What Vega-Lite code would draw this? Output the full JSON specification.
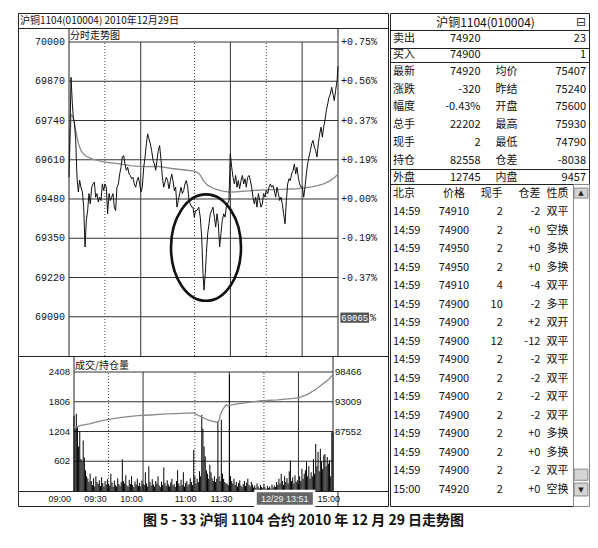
{
"$schema":"https://vega.github.io/schema/vega-lite/v6.json",
"background":"white",
"padding":{"left":17,"top":12,"right":12,"bottom":8},
"title":{"text":"图 5 - 33    沪铜 1104 合约 2010 年 12 月 29 日走势图","orient":"bottom","anchor":"middle","font":"Noto Sans CJK SC","fontSize":14,"fontWeight":"bold","color":"#111","offset":6},
"config":{"view":{"stroke":"#222","strokeWidth":1},"concat":{"spacing":0}},
"datasets":{
"priceTicks":[{"p":70000,"pct":"+0.75%"},{"p":69870,"pct":"+0.56%"},{"p":69740,"pct":"+0.37%"},{"p":69610,"pct":"+0.19%"},{"p":69480,"pct":"+0.00%"},{"p":69350,"pct":"-0.19%"},{"p":69220,"pct":"-0.37%"},{"p":69090,"pct":""}],
"volTicks":[{"v":2408,"oil":"98466"},{"v":1806,"oil":"93009"},{"v":1204,"oil":"87552"},{"v":602,"oil":""}],
"vgrid":[{"t":30,"kind":"minor"},{"t":60,"kind":"major"},{"t":105,"kind":"minor"},{"t":135,"kind":"major"},{"t":165,"kind":"minor"},{"t":195,"kind":"major"}],
"price":[{"t":0,"p":69552},{"t":0.6,"p":69674},{"t":1.0,"p":69740},{"t":1.7,"p":69883},{"t":2.8,"p":69795},{"t":3.6,"p":69751},{"t":4.5,"p":69734},{"t":5.6,"p":69674},{"t":6.7,"p":69552},{"t":7.8,"p":69503},{"t":8.9,"p":69542},{"t":10.0,"p":69519},{"t":11.2,"p":69503},{"t":12.3,"p":69453},{"t":13.4,"p":69321},{"t":14.5,"p":69409},{"t":15.6,"p":69442},{"t":16.7,"p":69498},{"t":17.8,"p":69464},{"t":19.0,"p":69519},{"t":20.1,"p":69530},{"t":21.2,"p":69536},{"t":22.3,"p":69486},{"t":23.4,"p":69498},{"t":24.5,"p":69470},{"t":25.6,"p":69486},{"t":26.8,"p":69475},{"t":27.9,"p":69530},{"t":29.0,"p":69508},{"t":30.1,"p":69530},{"t":31.2,"p":69519},{"t":32.3,"p":69431},{"t":33.5,"p":69498},{"t":34.6,"p":69475},{"t":35.7,"p":69486},{"t":36.8,"p":69498},{"t":37.9,"p":69453},{"t":39.0,"p":69442},{"t":40.1,"p":69519},{"t":41.3,"p":69530},{"t":42.4,"p":69563},{"t":43.5,"p":69585},{"t":44.6,"p":69619},{"t":45.7,"p":69624},{"t":46.8,"p":69597},{"t":47.9,"p":69575},{"t":49.1,"p":69585},{"t":50.2,"p":69563},{"t":51.3,"p":69558},{"t":52.4,"p":69547},{"t":53.5,"p":69552},{"t":54.6,"p":69530},{"t":55.8,"p":69519},{"t":56.9,"p":69541},{"t":58.0,"p":69552},{"t":59.1,"p":69530},{"t":60.2,"p":69503},{"t":61.3,"p":69519},{"t":62.5,"p":69585},{"t":63.6,"p":69619},{"t":64.7,"p":69663},{"t":65.8,"p":69696},{"t":66.9,"p":69679},{"t":68.0,"p":69663},{"t":69.1,"p":69641},{"t":70.3,"p":69608},{"t":71.4,"p":69597},{"t":72.5,"p":69575},{"t":73.6,"p":69608},{"t":74.7,"p":69641},{"t":75.8,"p":69657},{"t":77.0,"p":69608},{"t":78.1,"p":69552},{"t":79.2,"p":69519},{"t":80.3,"p":69536},{"t":81.4,"p":69552},{"t":82.5,"p":69541},{"t":83.6,"p":69514},{"t":84.8,"p":69541},{"t":85.9,"p":69563},{"t":87.0,"p":69541},{"t":88.1,"p":69508},{"t":89.2,"p":69519},{"t":90.3,"p":69453},{"t":91.4,"p":69475},{"t":92.6,"p":69498},{"t":93.7,"p":69519},{"t":94.8,"p":69498},{"t":95.9,"p":69508},{"t":97.0,"p":69530},{"t":98.1,"p":69541},{"t":99.3,"p":69519},{"t":100.4,"p":69475},{"t":101.5,"p":69464},{"t":102.6,"p":69453},{"t":103.7,"p":69453},{"t":104.8,"p":69420},{"t":105.9,"p":69442},{"t":107.1,"p":69442},{"t":108.5,"p":69453},{"t":109.8,"p":69420},{"t":111.0,"p":69354},{"t":112.1,"p":69233},{"t":112.9,"p":69178},{"t":114.0,"p":69233},{"t":114.9,"p":69299},{"t":116.0,"p":69365},{"t":117.1,"p":69398},{"t":118.2,"p":69431},{"t":119.3,"p":69442},{"t":120.4,"p":69453},{"t":121.6,"p":69420},{"t":122.7,"p":69387},{"t":123.8,"p":69431},{"t":124.9,"p":69398},{"t":126.0,"p":69321},{"t":127.1,"p":69365},{"t":128.2,"p":69409},{"t":129.4,"p":69431},{"t":130.5,"p":69420},{"t":131.6,"p":69453},{"t":132.7,"p":69464},{"t":133.8,"p":69475},{"t":134.9,"p":69630},{"t":136.1,"p":69585},{"t":137.2,"p":69552},{"t":138.3,"p":69530},{"t":139.4,"p":69558},{"t":140.5,"p":69519},{"t":141.6,"p":69541},{"t":142.7,"p":69514},{"t":143.9,"p":69541},{"t":145.0,"p":69558},{"t":146.1,"p":69530},{"t":147.2,"p":69547},{"t":148.3,"p":69519},{"t":149.4,"p":69552},{"t":150.6,"p":69558},{"t":151.7,"p":69541},{"t":152.8,"p":69519},{"t":153.9,"p":69486},{"t":155.0,"p":69464},{"t":156.1,"p":69486},{"t":157.2,"p":69453},{"t":158.4,"p":69498},{"t":159.5,"p":69475},{"t":160.6,"p":69453},{"t":161.7,"p":69464},{"t":162.8,"p":69498},{"t":163.9,"p":69486},{"t":165.0,"p":69508},{"t":166.2,"p":69498},{"t":167.3,"p":69519},{"t":168.4,"p":69530},{"t":169.5,"p":69519},{"t":170.6,"p":69525},{"t":171.7,"p":69508},{"t":172.9,"p":69486},{"t":174.0,"p":69519},{"t":175.1,"p":69498},{"t":176.2,"p":69475},{"t":177.3,"p":69486},{"t":178.4,"p":69464},{"t":179.5,"p":69431},{"t":180.7,"p":69398},{"t":181.8,"p":69475},{"t":182.9,"p":69530},{"t":184.0,"p":69547},{"t":185.1,"p":69541},{"t":186.2,"p":69563},{"t":187.4,"p":69574},{"t":188.5,"p":69596},{"t":189.6,"p":69563},{"t":190.7,"p":69585},{"t":191.8,"p":69552},{"t":192.9,"p":69530},{"t":194.0,"p":69519},{"t":195.2,"p":69519},{"t":196.3,"p":69486},{"t":197.4,"p":69519},{"t":198.5,"p":69563},{"t":199.6,"p":69596},{"t":200.7,"p":69619},{"t":201.9,"p":69641},{"t":203.0,"p":69663},{"t":204.1,"p":69674},{"t":205.2,"p":69652},{"t":206.3,"p":69641},{"t":207.4,"p":69619},{"t":208.5,"p":69663},{"t":209.7,"p":69696},{"t":210.8,"p":69718},{"t":211.9,"p":69685},{"t":213.0,"p":69718},{"t":214.1,"p":69740},{"t":215.2,"p":69773},{"t":216.4,"p":69795},{"t":217.5,"p":69817},{"t":218.6,"p":69828},{"t":219.7,"p":69850},{"t":220.8,"p":69828},{"t":221.9,"p":69806},{"t":223.0,"p":69839},{"t":224.2,"p":69872},{"t":225,"p":69920}],
"avg":[{"t":0,"a":69552},{"t":0.6,"a":69640},{"t":1.7,"a":69760},{"t":3,"a":69755},{"t":4.5,"a":69730},{"t":6,"a":69700},{"t":7.8,"a":69665},{"t":10,"a":69640},{"t":13.4,"a":69624},{"t":19,"a":69613},{"t":30,"a":69602},{"t":41,"a":69597},{"t":52.4,"a":69590},{"t":63.6,"a":69587},{"t":74.7,"a":69588},{"t":85.9,"a":69581},{"t":97,"a":69576},{"t":104.8,"a":69572},{"t":108.2,"a":69566},{"t":110,"a":69558},{"t":112.6,"a":69540},{"t":116,"a":69525},{"t":121.5,"a":69514},{"t":126.6,"a":69508},{"t":133.8,"a":69503},{"t":140,"a":69504},{"t":150,"a":69507},{"t":163,"a":69510},{"t":177,"a":69512},{"t":190.7,"a":69514},{"t":201.9,"a":69519},{"t":208,"a":69524},{"t":213,"a":69530},{"t":218.6,"a":69541},{"t":222,"a":69551},{"t":225,"a":69562}],
"oi":[{"t":0,"oi":88220},{"t":2.2,"oi":88340},{"t":5,"oi":88640},{"t":13.3,"oi":88950},{"t":24.5,"oi":89550},{"t":32.8,"oi":89860},{"t":41.3,"oi":90160},{"t":55.2,"oi":90460},{"t":66.3,"oi":90580},{"t":80.3,"oi":90770},{"t":94.2,"oi":90890},{"t":104,"oi":90950},{"t":108,"oi":90500},{"t":112.6,"oi":90030},{"t":118.2,"oi":89550},{"t":123.8,"oi":89240},{"t":126,"oi":89550},{"t":127.1,"oi":90590},{"t":129.4,"oi":91680},{"t":132.1,"oi":92410},{"t":134,"oi":92290},{"t":140.5,"oi":92590},{"t":151.7,"oi":92890},{"t":162.8,"oi":93190},{"t":176.8,"oi":93370},{"t":190.7,"oi":93615},{"t":196.3,"oi":93800},{"t":203.2,"oi":94400},{"t":210.2,"oi":95310},{"t":215.8,"oi":96220},{"t":221.4,"oi":97130},{"t":224.2,"oi":97860},{"t":225,"oi":98100}],
"vol":[{"t":0,"v":1525},{"t":1,"v":1270},{"t":2,"v":1565},{"t":3,"v":1290},{"t":4,"v":900},{"t":5,"v":1204},{"t":6,"v":650},{"t":7,"v":600},{"t":8,"v":1023},{"t":9,"v":680},{"t":10,"v":420},{"t":11,"v":300},{"t":12,"v":250},{"t":13,"v":180},{"t":14,"v":350},{"t":15,"v":200},{"t":16,"v":120},{"t":17,"v":260},{"t":18,"v":90},{"t":19,"v":300},{"t":20,"v":180},{"t":21,"v":140},{"t":22,"v":220},{"t":23,"v":100},{"t":24,"v":280},{"t":25,"v":160},{"t":26,"v":90},{"t":27,"v":200},{"t":28,"v":130},{"t":29,"v":240},{"t":30,"v":150},{"t":31,"v":110},{"t":32,"v":350},{"t":33,"v":170},{"t":34,"v":80},{"t":35,"v":210},{"t":36,"v":120},{"t":37,"v":90},{"t":38,"v":260},{"t":39,"v":140},{"t":40,"v":100},{"t":41,"v":180},{"t":42,"v":640},{"t":43,"v":200},{"t":44,"v":150},{"t":45,"v":320},{"t":46,"v":110},{"t":47,"v":90},{"t":48,"v":230},{"t":49,"v":140},{"t":50,"v":300},{"t":51,"v":120},{"t":52,"v":80},{"t":53,"v":190},{"t":54,"v":130},{"t":55,"v":250},{"t":56,"v":100},{"t":57,"v":160},{"t":58,"v":90},{"t":59,"v":210},{"t":60,"v":140},{"t":61,"v":120},{"t":62,"v":380},{"t":63,"v":150},{"t":64,"v":90},{"t":65,"v":500},{"t":66,"v":180},{"t":67,"v":110},{"t":68,"v":240},{"t":69,"v":130},{"t":70,"v":90},{"t":71,"v":200},{"t":72,"v":150},{"t":73,"v":300},{"t":74,"v":110},{"t":75,"v":80},{"t":76,"v":190},{"t":77,"v":120},{"t":78,"v":475},{"t":79,"v":160},{"t":80,"v":100},{"t":81,"v":220},{"t":82,"v":130},{"t":83,"v":90},{"t":84,"v":170},{"t":85,"v":250},{"t":86,"v":110},{"t":87,"v":140},{"t":88,"v":80},{"t":89,"v":200},{"t":90,"v":420},{"t":91,"v":150},{"t":92,"v":100},{"t":93,"v":230},{"t":94,"v":120},{"t":95,"v":380},{"t":96,"v":90},{"t":97,"v":160},{"t":98,"v":200},{"t":99,"v":110},{"t":100,"v":140},{"t":101,"v":260},{"t":102,"v":180},{"t":103,"v":120},{"t":104,"v":836},{"t":105,"v":300},{"t":106,"v":150},{"t":107,"v":250},{"t":108,"v":180},{"t":109,"v":400},{"t":110,"v":300},{"t":111,"v":1540},{"t":112,"v":1260},{"t":113,"v":900},{"t":114,"v":700},{"t":115,"v":420},{"t":116,"v":350},{"t":117,"v":250},{"t":118,"v":530},{"t":119,"v":380},{"t":120,"v":260},{"t":121,"v":200},{"t":122,"v":300},{"t":123,"v":180},{"t":124,"v":250},{"t":125,"v":1405},{"t":126,"v":300},{"t":127,"v":200},{"t":128,"v":1440},{"t":129,"v":350},{"t":130,"v":250},{"t":131,"v":180},{"t":132,"v":150},{"t":133,"v":150},{"t":134,"v":120},{"t":135,"v":2350},{"t":136,"v":300},{"t":137,"v":200},{"t":138,"v":150},{"t":139,"v":250},{"t":140,"v":120},{"t":141,"v":180},{"t":142,"v":90},{"t":143,"v":160},{"t":144,"v":220},{"t":145,"v":110},{"t":146,"v":80},{"t":147,"v":140},{"t":148,"v":200},{"t":149,"v":100},{"t":150,"v":170},{"t":151,"v":250},{"t":152,"v":120},{"t":153,"v":90},{"t":154,"v":180},{"t":155,"v":130},{"t":156,"v":70},{"t":157,"v":110},{"t":158,"v":60},{"t":159,"v":150},{"t":160,"v":90},{"t":161,"v":50},{"t":162,"v":120},{"t":163,"v":80},{"t":164,"v":60},{"t":165,"v":140},{"t":166,"v":70},{"t":167,"v":40},{"t":168,"v":100},{"t":169,"v":60},{"t":170,"v":90},{"t":171,"v":50},{"t":172,"v":130},{"t":173,"v":70},{"t":174,"v":110},{"t":175,"v":80},{"t":176,"v":180},{"t":177,"v":120},{"t":178,"v":250},{"t":179,"v":150},{"t":180,"v":350},{"t":181,"v":200},{"t":182,"v":120},{"t":183,"v":300},{"t":184,"v":180},{"t":185,"v":260},{"t":186,"v":150},{"t":187,"v":400},{"t":188,"v":620},{"t":189,"v":200},{"t":190,"v":280},{"t":191,"v":150},{"t":192,"v":320},{"t":193,"v":180},{"t":194,"v":220},{"t":195,"v":140},{"t":196,"v":300},{"t":197,"v":200},{"t":198,"v":450},{"t":199,"v":250},{"t":200,"v":350},{"t":201,"v":420},{"t":202,"v":590},{"t":203,"v":300},{"t":204,"v":500},{"t":205,"v":250},{"t":206,"v":380},{"t":207,"v":300},{"t":208,"v":650},{"t":209,"v":350},{"t":210,"v":950},{"t":211,"v":500},{"t":212,"v":790},{"t":213,"v":400},{"t":214,"v":856},{"t":215,"v":600},{"t":216,"v":450},{"t":217,"v":722},{"t":218,"v":750},{"t":219,"v":500},{"t":220,"v":690},{"t":221,"v":555},{"t":222,"v":620},{"t":223,"v":300},{"t":224,"v":1190},{"t":225,"v":1200}],
"quote":[{"sec":"T2","r":0,"c0":"卖出","c1":"74920","c2":"","c3":"23"},{"sec":"T3","r":0,"c0":"买入","c1":"74900","c2":"","c3":"1"},{"sec":"T4","r":0,"c0":"最新","c1":"74920","c2":"均价","c3":"75407"},{"sec":"T4","r":1,"c0":"涨跌","c1":"-320","c2":"昨结","c3":"75240"},{"sec":"T4","r":2,"c0":"幅度","c1":"-0.43%","c2":"开盘","c3":"75600"},{"sec":"T4","r":3,"c0":"总手","c1":"22202","c2":"最高","c3":"75930"},{"sec":"T4","r":4,"c0":"现手","c1":"2","c2":"最低","c3":"74790"},{"sec":"T4","r":5,"c0":"持仓","c1":"82558","c2":"仓差","c3":"-8038"},{"sec":"T5","r":0,"c0":"外盘","c1":"12745","c2":"内盘","c3":"9457"}],
"trades":[{"r":0,"c0":"北京","c1":"价格","c2":"现手","c3":"仓差","c4":"性质"},{"r":1,"c0":"14:59","c1":"74910","c2":"2","c3":"-2","c4":"双平"},{"r":2,"c0":"14:59","c1":"74900","c2":"2","c3":"+0","c4":"空换"},{"r":3,"c0":"14:59","c1":"74950","c2":"2","c3":"+0","c4":"多换"},{"r":4,"c0":"14:59","c1":"74950","c2":"2","c3":"+0","c4":"多换"},{"r":5,"c0":"14:59","c1":"74910","c2":"4","c3":"-4","c4":"双平"},{"r":6,"c0":"14:59","c1":"74900","c2":"10","c3":"-2","c4":"多平"},{"r":7,"c0":"14:59","c1":"74900","c2":"2","c3":"+2","c4":"双开"},{"r":8,"c0":"14:59","c1":"74900","c2":"12","c3":"-12","c4":"双平"},{"r":9,"c0":"14:59","c1":"74900","c2":"2","c3":"-2","c4":"双平"},{"r":10,"c0":"14:59","c1":"74900","c2":"2","c3":"-2","c4":"双平"},{"r":11,"c0":"14:59","c1":"74900","c2":"2","c3":"-2","c4":"双平"},{"r":12,"c0":"14:59","c1":"74900","c2":"2","c3":"-2","c4":"双平"},{"r":13,"c0":"14:59","c1":"74900","c2":"2","c3":"+0","c4":"多换"},{"r":14,"c0":"14:59","c1":"74900","c2":"2","c3":"+0","c4":"多换"},{"r":15,"c0":"14:59","c1":"74900","c2":"2","c3":"-2","c4":"双平"},{"r":16,"c0":"15:00","c1":"74920","c2":"2","c3":"+0","c4":"空换"}]
},
"spacing":0,
"bounds":"full",
"hconcat":[
{"spacing":0,"bounds":"flush","vconcat":[
 {"width":370,"height":15,"data":{"values":[{"k":"a","txt":"沪铜1104(010004) 2010年12月29日"}]},
  "mark":{"type":"text","align":"left","baseline":"middle","dx":2,"font":"Noto Sans CJK SC","fontSize":10,"color":"#111"},
  "encoding":{"x":{"field":"k","type":"nominal","bandPosition":0,"scale":{"type":"band","paddingInner":0,"paddingOuter":0},"axis":null},"text":{"field":"txt"}}},
 {"width":370,"height":328,"layer":[
  {"data":{"name":"priceTicks"},"mark":{"type":"rule","color":"#333","strokeWidth":1},"encoding":{"x":{"datum":0,"type":"quantitative","scale":{"domain":[0,225],"range":[51,320],"zero":false,"nice":false},"axis":null},"x2":{"datum":225},"y":{"field":"p","type":"quantitative","scale":{"domain":[68960,70000],"range":[328,14],"zero":false,"nice":false},"axis":null}}},
  {"data":{"name":"vgrid"},"transform":[{"filter":"datum.kind==='major'"}],"mark":{"type":"rule","color":"#333","strokeWidth":1},"encoding":{"x":{"field":"t","type":"quantitative","scale":{"domain":[0,225],"range":[51,320],"zero":false,"nice":false},"axis":null},"y":{"datum":68960,"type":"quantitative","scale":{"domain":[68960,70000],"range":[328,14],"zero":false,"nice":false},"axis":null},"y2":{"datum":70000}}},
  {"data":{"name":"vgrid"},"transform":[{"filter":"datum.kind==='minor'"}],"mark":{"type":"rule","color":"#444","strokeWidth":1,"strokeDash":[1,2]},"encoding":{"x":{"field":"t","type":"quantitative","scale":{"domain":[0,225],"range":[51,320],"zero":false,"nice":false},"axis":null},"y":{"datum":68960,"type":"quantitative","scale":{"domain":[68960,70000],"range":[328,14],"zero":false,"nice":false},"axis":null},"y2":{"datum":70000}}},
  {"data":{"values":[{"t":0},{"t":225}]},"mark":{"type":"rule","color":"#222","strokeWidth":1},"encoding":{"x":{"field":"t","type":"quantitative","scale":{"domain":[0,225],"range":[51,320],"zero":false,"nice":false},"axis":null}}},
  {"data":{"name":"avg"},"mark":{"type":"line","color":"#8a8a8a","strokeWidth":1.3},"encoding":{"x":{"field":"t","type":"quantitative","scale":{"domain":[0,225],"range":[51,320],"zero":false,"nice":false},"axis":null},"y":{"field":"a","type":"quantitative","scale":{"domain":[68960,70000],"range":[328,14],"zero":false,"nice":false},"axis":null}}},
  {"data":{"name":"price"},"mark":{"type":"line","color":"#111","strokeWidth":1},"encoding":{"x":{"field":"t","type":"quantitative","scale":{"domain":[0,225],"range":[51,320],"zero":false,"nice":false},"axis":null},"y":{"field":"p","type":"quantitative","scale":{"domain":[68960,70000],"range":[328,14],"zero":false,"nice":false},"axis":null}}},
  {"data":{"values":[{"t":114.6,"p":69319}]},"mark":{"type":"point","shape":"M-1,0A1,1.52,0,1,1,1,0A1,1.52,0,1,1,-1,0Z","size":4900,"filled":false,"stroke":"#111","strokeWidth":2.6,"opacity":1},"encoding":{"x":{"field":"t","type":"quantitative","scale":{"domain":[0,225],"range":[51,320],"zero":false,"nice":false},"axis":null},"y":{"field":"p","type":"quantitative","scale":{"domain":[68960,70000],"range":[328,14],"zero":false,"nice":false},"axis":null}}},
  {"data":{"values":[{"h":"分时走势图"}]},"mark":{"type":"text","align":"left","baseline":"bottom","dx":1,"dy":-1,"font":"Noto Sans CJK SC","fontSize":10,"color":"#111"},"encoding":{"x":{"datum":0,"type":"quantitative","scale":{"domain":[0,225],"range":[51,320],"zero":false,"nice":false},"axis":null},"y":{"datum":70000,"type":"quantitative","scale":{"domain":[68960,70000],"range":[328,14],"zero":false,"nice":false},"axis":null},"text":{"field":"h"}}},
  {"data":{"name":"priceTicks"},"mark":{"type":"text","align":"right","baseline":"middle","dx":-4,"font":"Liberation Mono","fontSize":10,"color":"#111"},"encoding":{"x":{"datum":0,"type":"quantitative","scale":{"domain":[0,225],"range":[51,320],"zero":false,"nice":false},"axis":null},"y":{"field":"p","type":"quantitative","scale":{"domain":[68960,70000],"range":[328,14],"zero":false,"nice":false},"axis":null},"text":{"field":"p","type":"quantitative","format":"d"}}},
  {"data":{"name":"priceTicks"},"mark":{"type":"text","align":"left","baseline":"middle","dx":3,"font":"Liberation Mono","fontSize":10,"color":"#111"},"encoding":{"x":{"datum":225,"type":"quantitative","scale":{"domain":[0,225],"range":[51,320],"zero":false,"nice":false},"axis":null},"y":{"field":"p","type":"quantitative","scale":{"domain":[68960,70000],"range":[328,14],"zero":false,"nice":false},"axis":null},"text":{"field":"pct"}}},
  {"data":{"values":[{"c":"69065"}]},"mark":{"type":"rect","color":"#555"},"encoding":{"x":{"datum":227,"type":"quantitative","scale":{"domain":[0,225],"range":[51,320],"zero":false,"nice":false},"axis":null},"x2":{"datum":251},"y":{"datum":69070,"type":"quantitative","scale":{"domain":[68960,70000],"range":[328,14],"zero":false,"nice":false},"axis":null},"y2":{"datum":69104}}},
  {"data":{"values":[{"c":"69065"}]},"mark":{"type":"text","align":"center","baseline":"middle","font":"Liberation Mono","fontSize":9,"color":"#fff"},"encoding":{"x":{"datum":239,"type":"quantitative","scale":{"domain":[0,225],"range":[51,320],"zero":false,"nice":false},"axis":null},"y":{"datum":69087,"type":"quantitative","scale":{"domain":[68960,70000],"range":[328,14],"zero":false,"nice":false},"axis":null},"text":{"field":"c"}}},
  {"data":{"values":[{"c":"%"}]},"mark":{"type":"text","align":"left","baseline":"middle","dx":1,"font":"Liberation Mono","fontSize":10,"color":"#111"},"encoding":{"x":{"datum":251,"type":"quantitative","scale":{"domain":[0,225],"range":[51,320],"zero":false,"nice":false},"axis":null},"y":{"datum":69087,"type":"quantitative","scale":{"domain":[68960,70000],"range":[328,14],"zero":false,"nice":false},"axis":null},"text":{"field":"c"}}}
 ]},
 {"width":370,"height":135,"resolve":{"scale":{"y":"independent"}},"layer":[
  {"layer":[
   {"data":{"name":"volTicks"},"mark":{"type":"rule","color":"#333","strokeWidth":1},"encoding":{"x":{"datum":0,"type":"quantitative","scale":{"domain":[0,225],"range":[51,320],"zero":false,"nice":false},"axis":null},"x2":{"datum":225},"y":{"field":"v","type":"quantitative","scale":{"domain":[0,2408],"range":[135,16],"zero":false,"nice":false},"axis":null}}},
   {"data":{"name":"vgrid"},"transform":[{"filter":"datum.kind==='major'"}],"mark":{"type":"rule","color":"#333","strokeWidth":1},"encoding":{"x":{"field":"t","type":"quantitative","scale":{"domain":[0,225],"range":[51,320],"zero":false,"nice":false},"axis":null},"y":{"datum":0,"type":"quantitative","scale":{"domain":[0,2408],"range":[135,16],"zero":false,"nice":false},"axis":null},"y2":{"datum":2408}}},
   {"data":{"name":"vgrid"},"transform":[{"filter":"datum.kind==='minor'"}],"mark":{"type":"rule","color":"#444","strokeWidth":1,"strokeDash":[1,2]},"encoding":{"x":{"field":"t","type":"quantitative","scale":{"domain":[0,225],"range":[51,320],"zero":false,"nice":false},"axis":null},"y":{"datum":0,"type":"quantitative","scale":{"domain":[0,2408],"range":[135,16],"zero":false,"nice":false},"axis":null},"y2":{"datum":2408}}},
   {"data":{"values":[{"t":0},{"t":225}]},"mark":{"type":"rule","color":"#222","strokeWidth":1},"encoding":{"x":{"field":"t","type":"quantitative","scale":{"domain":[0,225],"range":[51,320],"zero":false,"nice":false},"axis":null}}},
   {"data":{"name":"vol"},"mark":{"type":"bar","orient":"vertical","width":1,"color":"#000"},"encoding":{"x":{"field":"t","type":"quantitative","scale":{"domain":[0,225],"range":[51,320],"zero":false,"nice":false},"axis":null},"y":{"field":"v","type":"quantitative","scale":{"domain":[0,2408],"range":[135,16],"zero":false,"nice":false},"axis":null}}},
   {"data":{"values":[{"h":"成交/持仓量"}]},"mark":{"type":"text","align":"left","baseline":"bottom","dx":1,"dy":-1,"font":"Noto Sans CJK SC","fontSize":10,"color":"#111"},"encoding":{"x":{"datum":0,"type":"quantitative","scale":{"domain":[0,225],"range":[51,320],"zero":false,"nice":false},"axis":null},"y":{"datum":2408,"type":"quantitative","scale":{"domain":[0,2408],"range":[135,16],"zero":false,"nice":false},"axis":null},"text":{"field":"h"}}},
   {"data":{"name":"volTicks"},"mark":{"type":"text","align":"right","baseline":"middle","dx":-4,"font":"Liberation Sans","fontSize":9.5,"color":"#111"},"encoding":{"x":{"datum":0,"type":"quantitative","scale":{"domain":[0,225],"range":[51,320],"zero":false,"nice":false},"axis":null},"y":{"field":"v","type":"quantitative","scale":{"domain":[0,2408],"range":[135,16],"zero":false,"nice":false},"axis":null},"text":{"field":"v","type":"quantitative","format":"d"}}},
   {"data":{"name":"volTicks"},"mark":{"type":"text","align":"left","baseline":"middle","dx":2,"font":"Liberation Sans","fontSize":9.5,"color":"#111"},"encoding":{"x":{"datum":225,"type":"quantitative","scale":{"domain":[0,225],"range":[51,320],"zero":false,"nice":false},"axis":null},"y":{"field":"v","type":"quantitative","scale":{"domain":[0,2408],"range":[135,16],"zero":false,"nice":false},"axis":null},"text":{"field":"oil"}}}
  ]},
  {"data":{"name":"oi"},"mark":{"type":"line","color":"#8a8a8a","strokeWidth":1.3},"encoding":{"x":{"field":"t","type":"quantitative","scale":{"domain":[0,225],"range":[51,320],"zero":false,"nice":false},"axis":null},"y":{"field":"oi","type":"quantitative","scale":{"domain":[76638,98466],"range":[135,16],"zero":false,"nice":false},"axis":null}}}
 ]},
 {"width":370,"height":15,"layer":[
  {"data":{"values":[{"t":225}]},"mark":{"type":"rule","color":"#222","strokeWidth":1},"encoding":{"x":{"field":"t","type":"quantitative","scale":{"domain":[0,225],"range":[51,320],"zero":false,"nice":false},"axis":null}}},
  {"data":{"values":[{"c":"12/29 13:51"}]},"mark":{"type":"rect","color":"#666","stroke":"#fff","strokeWidth":2.5},"encoding":{"x":{"datum":156,"type":"quantitative","scale":{"domain":[0,225],"range":[51,320],"zero":false,"nice":false},"axis":null},"x2":{"datum":205}}},
  {"data":{"values":[{"c":"12/29 13:51"}]},"mark":{"type":"text","align":"center","baseline":"middle","font":"Liberation Sans","fontSize":9,"color":"#f2f2f2"},"encoding":{"x":{"datum":180.5,"type":"quantitative","scale":{"domain":[0,225],"range":[51,320],"zero":false,"nice":false},"axis":null},"text":{"field":"c"}}},
  {"data":{"values":[{"t":0,"l":"09:00"},{"t":30,"l":"09:30"},{"t":60,"l":"10:00"},{"t":105,"l":"11:00"},{"t":135,"l":"11:30"},{"t":225,"l":"15:00"}]},"mark":{"type":"text","align":"right","baseline":"middle","dx":2,"font":"Liberation Sans","fontSize":9,"color":"#111"},"encoding":{"x":{"field":"t","type":"quantitative","scale":{"domain":[0,225],"range":[51,320],"zero":false,"nice":false},"axis":null},"text":{"field":"l"}}}
 ]}
]},
{"spacing":0,"bounds":"flush","vconcat":[
 {"width":199,"height":17,"layer":[
  {"data":{"values":[{"txt":"沪铜1104(010004)"}]},"mark":{"type":"text","align":"center","baseline":"middle","dx":-4,"dy":1,"font":"Noto Sans CJK SC","fontSize":12,"color":"#111"},"encoding":{"text":{"field":"txt"}}},
  {"data":{"values":[{"col":"c3","txt":"⊟"}]},"mark":{"type":"text","align":"center","baseline":"middle","dx":-8,"font":"DejaVu Sans","fontSize":12,"color":"#333"},"encoding":{"x":{"field":"col","type":"nominal","bandPosition":1,"scale":{"type":"band","domain":["c0","c1","c2","c3"],"paddingInner":0,"paddingOuter":0},"axis":null},"text":{"field":"txt"}}}
 ]},
 {"width":199,"height":18,"data":{"name":"quote"},"transform":[{"filter":"datum.sec==='T2'"},{"fold":["c0","c1","c2","c3"],"as":["col","txt"]}],"encoding":{"text":{"field":"txt"}},"layer":[
  {"transform":[{"filter":"datum.col==='c0'"}],"mark":{"type":"text","align":"left","baseline":"middle","dx":3,"font":"Noto Sans CJK SC","fontSize":11,"color":"#111"},"encoding":{"x":{"field":"col","type":"nominal","bandPosition":0,"scale":{"type":"band","domain":["c0","c1","c2","c3"],"paddingInner":0,"paddingOuter":0},"axis":null}}},
  {"transform":[{"filter":"datum.col==='c1'"}],"mark":{"type":"text","align":"right","baseline":"middle","dx":-9,"font":"Noto Sans CJK SC","fontSize":11,"color":"#111"},"encoding":{"x":{"field":"col","type":"nominal","bandPosition":1,"scale":{"type":"band","domain":["c0","c1","c2","c3"],"paddingInner":0,"paddingOuter":0},"axis":null}}},
  {"transform":[{"filter":"datum.col==='c3'"}],"mark":{"type":"text","align":"right","baseline":"middle","dx":-3,"font":"Noto Sans CJK SC","fontSize":11,"color":"#111"},"encoding":{"x":{"field":"col","type":"nominal","bandPosition":1,"scale":{"type":"band","domain":["c0","c1","c2","c3"],"paddingInner":0,"paddingOuter":0},"axis":null}}}
 ]},
 {"width":199,"height":14,"data":{"name":"quote"},"transform":[{"filter":"datum.sec==='T3'"},{"fold":["c0","c1","c2","c3"],"as":["col","txt"]}],"encoding":{"text":{"field":"txt"}},"layer":[
  {"transform":[{"filter":"datum.col==='c0'"}],"mark":{"type":"text","align":"left","baseline":"middle","dx":3,"font":"Noto Sans CJK SC","fontSize":11,"color":"#111"},"encoding":{"x":{"field":"col","type":"nominal","bandPosition":0,"scale":{"type":"band","domain":["c0","c1","c2","c3"],"paddingInner":0,"paddingOuter":0},"axis":null}}},
  {"transform":[{"filter":"datum.col==='c1'"}],"mark":{"type":"text","align":"right","baseline":"middle","dx":-9,"font":"Noto Sans CJK SC","fontSize":11,"color":"#111"},"encoding":{"x":{"field":"col","type":"nominal","bandPosition":1,"scale":{"type":"band","domain":["c0","c1","c2","c3"],"paddingInner":0,"paddingOuter":0},"axis":null}}},
  {"transform":[{"filter":"datum.col==='c3'"}],"mark":{"type":"text","align":"right","baseline":"middle","dx":-3,"font":"Noto Sans CJK SC","fontSize":11,"color":"#111"},"encoding":{"x":{"field":"col","type":"nominal","bandPosition":1,"scale":{"type":"band","domain":["c0","c1","c2","c3"],"paddingInner":0,"paddingOuter":0},"axis":null}}}
 ]},
 {"width":199,"height":107,"data":{"name":"quote"},"transform":[{"filter":"datum.sec==='T4'"},{"fold":["c0","c1","c2","c3"],"as":["col","txt"]}],"encoding":{"text":{"field":"txt"},"y":{"field":"r","type":"quantitative","scale":{"domain":[0,5],"range":[10,98.5],"zero":false,"nice":false},"axis":null}},"layer":[
  {"transform":[{"filter":"datum.col==='c0'"}],"mark":{"type":"text","align":"left","baseline":"middle","dx":3,"font":"Noto Sans CJK SC","fontSize":11,"color":"#111"},"encoding":{"x":{"field":"col","type":"nominal","bandPosition":0,"scale":{"type":"band","domain":["c0","c1","c2","c3"],"paddingInner":0,"paddingOuter":0},"axis":null}}},
  {"transform":[{"filter":"datum.col==='c1'"}],"mark":{"type":"text","align":"right","baseline":"middle","dx":-9,"font":"Noto Sans CJK SC","fontSize":11,"color":"#111"},"encoding":{"x":{"field":"col","type":"nominal","bandPosition":1,"scale":{"type":"band","domain":["c0","c1","c2","c3"],"paddingInner":0,"paddingOuter":0},"axis":null}}},
  {"transform":[{"filter":"datum.col==='c2'"}],"mark":{"type":"text","align":"left","baseline":"middle","dx":6,"font":"Noto Sans CJK SC","fontSize":11,"color":"#111"},"encoding":{"x":{"field":"col","type":"nominal","bandPosition":0,"scale":{"type":"band","domain":["c0","c1","c2","c3"],"paddingInner":0,"paddingOuter":0},"axis":null}}},
  {"transform":[{"filter":"datum.col==='c3'"}],"mark":{"type":"text","align":"right","baseline":"middle","dx":-3,"font":"Noto Sans CJK SC","fontSize":11,"color":"#111"},"encoding":{"x":{"field":"col","type":"nominal","bandPosition":1,"scale":{"type":"band","domain":["c0","c1","c2","c3"],"paddingInner":0,"paddingOuter":0},"axis":null}}}
 ]},
 {"width":199,"height":15,"data":{"name":"quote"},"transform":[{"filter":"datum.sec==='T5'"},{"fold":["c0","c1","c2","c3"],"as":["col","txt"]}],"encoding":{"text":{"field":"txt"}},"layer":[
  {"transform":[{"filter":"datum.col==='c0'"}],"mark":{"type":"text","align":"left","baseline":"middle","dx":3,"dy":1,"font":"Noto Sans CJK SC","fontSize":11,"color":"#111"},"encoding":{"x":{"field":"col","type":"nominal","bandPosition":0,"scale":{"type":"band","domain":["c0","c1","c2","c3"],"paddingInner":0,"paddingOuter":0},"axis":null}}},
  {"transform":[{"filter":"datum.col==='c1'"}],"mark":{"type":"text","align":"right","baseline":"middle","dx":-9,"dy":1,"font":"Noto Sans CJK SC","fontSize":11,"color":"#111"},"encoding":{"x":{"field":"col","type":"nominal","bandPosition":1,"scale":{"type":"band","domain":["c0","c1","c2","c3"],"paddingInner":0,"paddingOuter":0},"axis":null}}},
  {"transform":[{"filter":"datum.col==='c2'"}],"mark":{"type":"text","align":"left","baseline":"middle","dx":6,"dy":1,"font":"Noto Sans CJK SC","fontSize":11,"color":"#111"},"encoding":{"x":{"field":"col","type":"nominal","bandPosition":0,"scale":{"type":"band","domain":["c0","c1","c2","c3"],"paddingInner":0,"paddingOuter":0},"axis":null}}},
  {"transform":[{"filter":"datum.col==='c3'"}],"mark":{"type":"text","align":"right","baseline":"middle","dx":-3,"dy":1,"font":"Noto Sans CJK SC","fontSize":11,"color":"#111"},"encoding":{"x":{"field":"col","type":"nominal","bandPosition":1,"scale":{"type":"band","domain":["c0","c1","c2","c3"],"paddingInner":0,"paddingOuter":0},"axis":null}}}
 ]},
 {"spacing":0,"bounds":"flush","hconcat":[
  {"width":183,"height":322,"data":{"name":"trades"},"transform":[{"fold":["c0","c1","c2","c3","c4"],"as":["col","txt"]}],"encoding":{"text":{"field":"txt"},"y":{"field":"r","type":"quantitative","scale":{"domain":[0,16],"range":[10,305.5],"zero":false,"nice":false},"axis":null}},"layer":[
   {"transform":[{"filter":"datum.col==='c0'"}],"mark":{"type":"text","align":"left","baseline":"middle","dx":3,"font":"Noto Sans CJK SC","fontSize":11,"color":"#111"},"encoding":{"x":{"field":"col","type":"nominal","bandPosition":0,"scale":{"type":"band","domain":["c0","c1","c2","c3","c4"],"paddingInner":0,"paddingOuter":0},"axis":null}}},
   {"transform":[{"filter":"datum.col==='c1'"}],"mark":{"type":"text","align":"center","baseline":"middle","dx":9,"font":"Noto Sans CJK SC","fontSize":11,"color":"#111"},"encoding":{"x":{"field":"col","type":"nominal","bandPosition":0.5,"scale":{"type":"band","domain":["c0","c1","c2","c3","c4"],"paddingInner":0,"paddingOuter":0},"axis":null}}},
   {"transform":[{"filter":"datum.col==='c2'"}],"mark":{"type":"text","align":"right","baseline":"middle","dx":3,"font":"Noto Sans CJK SC","fontSize":11,"color":"#111"},"encoding":{"x":{"field":"col","type":"nominal","bandPosition":1,"scale":{"type":"band","domain":["c0","c1","c2","c3","c4"],"paddingInner":0,"paddingOuter":0},"axis":null}}},
   {"transform":[{"filter":"datum.col==='c3'"}],"mark":{"type":"text","align":"right","baseline":"middle","dx":4,"font":"Noto Sans CJK SC","fontSize":11,"color":"#111"},"encoding":{"x":{"field":"col","type":"nominal","bandPosition":1,"scale":{"type":"band","domain":["c0","c1","c2","c3","c4"],"paddingInner":0,"paddingOuter":0},"axis":null}}},
   {"transform":[{"filter":"datum.col==='c4'"}],"mark":{"type":"text","align":"left","baseline":"middle","dx":10,"font":"Noto Sans CJK SC","fontSize":11,"color":"#111"},"encoding":{"x":{"field":"col","type":"nominal","bandPosition":0,"scale":{"type":"band","domain":["c0","c1","c2","c3","c4"],"paddingInner":0,"paddingOuter":0},"axis":null}}}
  ]},
  {"width":16,"height":322,"view":{"stroke":"#888"},"data":{"values":[{"k":"s"}]},"layer":[
   {"mark":{"type":"rect","color":"#d4d4d4","stroke":"#888","strokeWidth":1},"encoding":{"x":{"field":"k","type":"nominal","scale":{"type":"band","paddingInner":0,"paddingOuter":0.08},"axis":null},"y":{"datum":-0.32,"type":"quantitative","scale":{"domain":[0,16],"range":[10,305.5],"zero":false,"nice":false},"axis":null},"y2":{"datum":0.22}}},
   {"mark":{"type":"rect","color":"#d4d4d4","stroke":"#888","strokeWidth":1},"encoding":{"x":{"field":"k","type":"nominal","scale":{"type":"band","paddingInner":0,"paddingOuter":0.08},"axis":null},"y":{"datum":14.9,"type":"quantitative","scale":{"domain":[0,16],"range":[10,305.5],"zero":false,"nice":false},"axis":null},"y2":{"datum":15.5}}},
   {"mark":{"type":"rect","color":"#d4d4d4","stroke":"#888","strokeWidth":1},"encoding":{"x":{"field":"k","type":"nominal","scale":{"type":"band","paddingInner":0,"paddingOuter":0.08},"axis":null},"y":{"datum":15.65,"type":"quantitative","scale":{"domain":[0,16],"range":[10,305.5],"zero":false,"nice":false},"axis":null},"y2":{"datum":16.35}}},
   {"mark":{"type":"text","text":"▲","align":"center","baseline":"middle","font":"DejaVu Sans","fontSize":7,"color":"#222"},"encoding":{"x":{"field":"k","type":"nominal","bandPosition":0.5,"scale":{"type":"band","paddingInner":0,"paddingOuter":0.08},"axis":null},"y":{"datum":-0.05,"type":"quantitative","scale":{"domain":[0,16],"range":[10,305.5],"zero":false,"nice":false},"axis":null}}},
   {"mark":{"type":"text","text":"▼","align":"center","baseline":"middle","font":"DejaVu Sans","fontSize":7,"color":"#222"},"encoding":{"x":{"field":"k","type":"nominal","bandPosition":0.5,"scale":{"type":"band","paddingInner":0,"paddingOuter":0.08},"axis":null},"y":{"datum":16.0,"type":"quantitative","scale":{"domain":[0,16],"range":[10,305.5],"zero":false,"nice":false},"axis":null}}}
  ]}
 ]}
]}
]
}
